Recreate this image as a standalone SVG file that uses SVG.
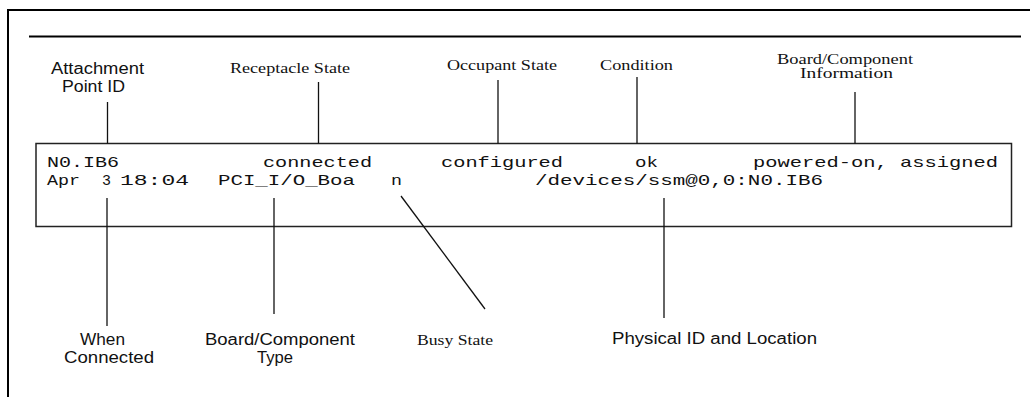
<svg xmlns="http://www.w3.org/2000/svg" width="1030" height="397" viewBox="0 0 1030 397">
<style>
.frame{fill:none;stroke:#000;stroke-width:2}
.box{fill:#fff;stroke:#222;stroke-width:1.5}
.conn line{stroke:#111;stroke-width:1.3}
.mono{font-family:"Liberation Mono","Courier New",monospace;font-size:15px;fill:#111}
.sans{font-family:"Liberation Sans",Arial,sans-serif;font-size:16px;fill:#111;text-anchor:middle}
.hand{font-family:"Liberation Serif","Times New Roman",serif;font-size:14px;fill:#111}
</style>
<rect width="1030" height="397" fill="#fff"/>
<g id="frame">
<polyline class="frame" points="8,397 8,10 1030,10"/>
<line x1="29" y1="36.5" x2="1021" y2="36.5" stroke="#000" stroke-width="2"/>
</g>
<g id="output-box">
<rect class="box" x="36" y="143.5" width="975.5" height="83"/>
<text class="mono" x="47" y="167" textLength="72" lengthAdjust="spacingAndGlyphs">N0.IB6</text>
<text class="mono" x="263" y="167" textLength="109" lengthAdjust="spacingAndGlyphs">connected</text>
<text class="mono" x="441" y="167" textLength="122" lengthAdjust="spacingAndGlyphs">configured</text>
<text class="mono" x="635" y="167" textLength="23" lengthAdjust="spacingAndGlyphs">ok</text>
<text class="mono" x="753" y="167" textLength="245" lengthAdjust="spacingAndGlyphs">powered-on, assigned</text>
<text class="mono" x="47" y="185" textLength="33" lengthAdjust="spacingAndGlyphs">Apr</text>
<text class="mono" x="102" y="185" textLength="9" lengthAdjust="spacingAndGlyphs">3</text>
<text class="mono" x="120" y="185" textLength="69" lengthAdjust="spacingAndGlyphs">18:04</text>
<text class="mono" x="218" y="185" textLength="137" lengthAdjust="spacingAndGlyphs">PCI_I/O_Boa</text>
<text class="mono" x="391" y="185" textLength="11" lengthAdjust="spacingAndGlyphs">n</text>
<text class="mono" x="535" y="185" textLength="288" lengthAdjust="spacingAndGlyphs">/devices/ssm@0,0:N0.IB6</text>
</g>
<g id="connectors" class="conn">
<line x1="107.5" y1="102" x2="107.5" y2="143.5"/>
<line x1="318.5" y1="82" x2="318.5" y2="143.5"/>
<line x1="498" y1="80" x2="498" y2="143.5"/>
<line x1="637" y1="77" x2="637" y2="143.5"/>
<line x1="855" y1="92" x2="855" y2="143.5"/>
<line x1="107" y1="198" x2="107" y2="326"/>
<line x1="274" y1="198" x2="274" y2="314"/>
<line x1="664" y1="198" x2="664" y2="318"/>
<line x1="401" y1="196" x2="485" y2="309"/>
</g>
<g id="label-attachment-point-id">
<text class="sans" x="97.5" y="74" textLength="93" lengthAdjust="spacingAndGlyphs">Attachment</text>
<text class="sans" x="93.5" y="92" textLength="63" lengthAdjust="spacingAndGlyphs">Point ID</text>
</g>
<g id="label-receptacle-state">
<text class="hand" x="230" y="73" textLength="120" lengthAdjust="spacingAndGlyphs">Receptacle State</text>
</g>
<g id="label-occupant-state">
<text class="hand" x="447" y="70" textLength="110" lengthAdjust="spacingAndGlyphs">Occupant State</text>
</g>
<g id="label-condition">
<text class="hand" x="600" y="70" textLength="73" lengthAdjust="spacingAndGlyphs">Condition</text>
</g>
<g id="label-board-component-information">
<text class="hand" x="777" y="64" textLength="136" lengthAdjust="spacingAndGlyphs">Board/Component</text>
<text class="hand" x="800" y="78" textLength="93" lengthAdjust="spacingAndGlyphs">Information</text>
</g>
<g id="label-when-connected">
<text class="sans" x="102.5" y="345" textLength="45" lengthAdjust="spacingAndGlyphs">When</text>
<text class="sans" x="109" y="363" textLength="90" lengthAdjust="spacingAndGlyphs">Connected</text>
</g>
<g id="label-board-component-type">
<text class="sans" x="280" y="345" textLength="150" lengthAdjust="spacingAndGlyphs">Board/Component</text>
<text class="sans" x="275" y="363" textLength="36" lengthAdjust="spacingAndGlyphs">Type</text>
</g>
<g id="label-busy-state">
<text class="hand" x="417" y="345" textLength="76" lengthAdjust="spacingAndGlyphs">Busy State</text>
</g>
<g id="label-physical-id-location">
<text class="sans" x="714.5" y="344" textLength="205" lengthAdjust="spacingAndGlyphs">Physical ID and Location</text>
</g>
</svg>
